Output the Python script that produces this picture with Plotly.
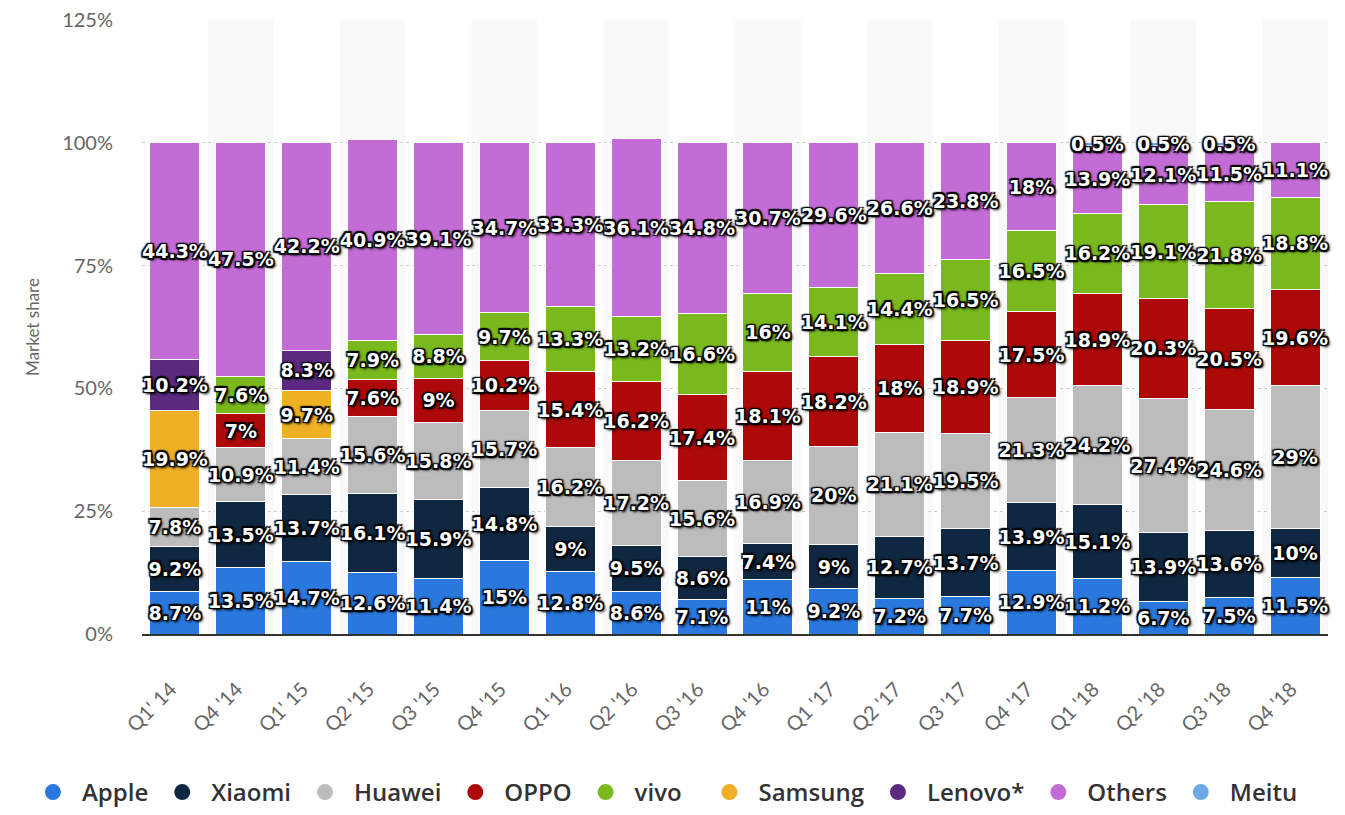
import plotly.graph_objects as go

categories = ["Q1' 14", "Q4 '14", "Q1' 15", "Q2 '15", "Q3 '15", "Q4 '15", "Q1 '16", "Q2 '16", "Q3 '16",
              "Q4 '16", "Q1 '17", "Q2 '17", "Q3 '17", "Q4 '17", "Q1 '18", "Q2 '18", "Q3 '18", "Q4 '18"]

apple = [8.7, 13.5, 14.7, 12.6, 11.4, 15, 12.8, 8.6, 7.1, 11, 9.2, 7.2, 7.7, 12.9, 11.2, 6.7, 7.5, 11.5]
xiaomi = [9.2, 13.5, 13.7, 16.1, 15.9, 14.8, 9, 9.5, 8.6, 7.4, 9, 12.7, 13.7, 13.9, 15.1, 13.9, 13.6, 10]
huawei = [7.8, 10.9, 11.4, 15.6, 15.8, 15.7, 16.2, 17.2, 15.6, 16.9, 20, 21.1, 19.5, 21.3, 24.2, 27.4, 24.6, 29]
oppo = [None, 7, None, 7.6, 9, 10.2, 15.4, 16.2, 17.4, 18.1, 18.2, 18, 18.9, 17.5, 18.9, 20.3, 20.5, 19.6]
vivo = [None, 7.6, None, 7.9, 8.8, 9.7, 13.3, 13.2, 16.6, 16, 14.1, 14.4, 16.5, 16.5, 16.2, 19.1, 21.8, 18.8]
samsung = [19.9, None, 9.7] + [None] * 15
lenovo = [10.2, None, 8.3] + [None] * 15
others = [44.3, 47.5, 42.2, 40.9, 39.1, 34.7, 33.3, 36.1, 34.8, 30.7, 29.6, 26.6, 23.8, 18, 13.9, 12.1, 11.5, 11.1]
meitu = [None] * 14 + [0.5, 0.5, 0.5, None]

series_names = ["Apple", "Xiaomi", "Huawei", "OPPO", "vivo", "Samsung", "Lenovo*", "Others", "Meitu"]
series_values = [apple, xiaomi, huawei, oppo, vivo, samsung, lenovo, others, meitu]
series_colors = ["#2a78dd", "#0f2740", "#bcbcbc", "#ae0909", "#7ab91e", "#efb025", "#5b2a80", "#c46cd6", "#6fa8e6"]
# legend row is split into two halves so that it stays on one line
series_legend = ["legend"] * 5 + ["legend2"] * 4

ytick_vals = [0, 25, 50, 75, 100, 125]
ytick_text = ["0%", "25%", "50%", "75%", "100%", "125%"]

outline = ("-1.5px -1.5px 1px #000, 1.5px -1.5px 1px #000, -1.5px 1.5px 1px #000, 1.5px 1.5px 1px #000, "
           "0px 0px 3px #000, 2px 2px 3px #000")

fig = go.Figure()
for name, vals, col in zip(series_names, series_values, series_colors):
    fig.add_trace(go.Bar(
        x=categories, y=vals, name=name, showlegend=False,
        marker=dict(color=col, line=dict(color="#ffffff", width=1)),
        texttemplate="%{y}%", textposition="inside", insidetextanchor="middle",
        textangle=0, constraintext="none", cliponaxis=False,
        textfont=dict(family="DejaVu Sans", size=19, color="#ffffff", weight="bold", shadow=outline),
    ))
# legend entries with round symbols
for name, col, lg in zip(series_names, series_colors, series_legend):
    fig.add_trace(go.Scatter(
        x=[None], y=[None], mode="markers", name=name, legend=lg,
        marker=dict(symbol="circle", size=16, color=col),
    ))

shapes = []
for i in range(len(categories)):
    if i % 2 == 1:
        shapes.append(dict(type="rect", xref="x", yref="paper", x0=i - 0.5, x1=i + 0.5, y0=0, y1=1,
                           fillcolor="#f9f9f9", line=dict(width=0), layer="below"))

legend_font = dict(family="Open Sans", size=24, color="#333333", weight=600)

# page body has an 8px margin, so the figure is offset by 8px inside the window
fig.update_layout(
    width=1329, height=807,
    barmode="stack", bargap=0.24,
    plot_bgcolor="#ffffff", paper_bgcolor="#ffffff",
    margin=dict(l=134, r=9, t=12, b=181, autoexpand=False),
    shapes=shapes,
    showlegend=True,
    legend=dict(orientation="h", traceorder="normal", xref="container", yref="container",
                x=0.012, xanchor="left", y=0, yanchor="bottom",
                font=legend_font, itemwidth=48, tracegroupgap=0),
    legend2=dict(orientation="h", traceorder="normal", xref="container", yref="container",
                 x=0.974, xanchor="right", y=0, yanchor="bottom",
                 font=legend_font, itemwidth=48, tracegroupgap=0),
    xaxis=dict(type="category", tickangle=-45, showline=True, linecolor="#333333", linewidth=1.5,
               tickfont=dict(family="Lato", size=20, color="#666666"), showgrid=False,
               ticklabelshift=-4, ticklabelstandoff=34, automargin=False),
    yaxis=dict(range=[0, 125], tickmode="array", tickvals=ytick_vals, ticktext=ytick_text, showgrid=True,
               gridcolor="#cccccc", griddash="dot", gridwidth=1, zeroline=False,
               tickfont=dict(family="Lato", size=20, color="#666666"), ticklabelstandoff=28,
               ticklabeloverflow="allow",
               title=dict(text="Market share", font=dict(family="Lato", size=17, color="#666666"), standoff=18),
               automargin=False),
)

fig.write_html("out.html")
